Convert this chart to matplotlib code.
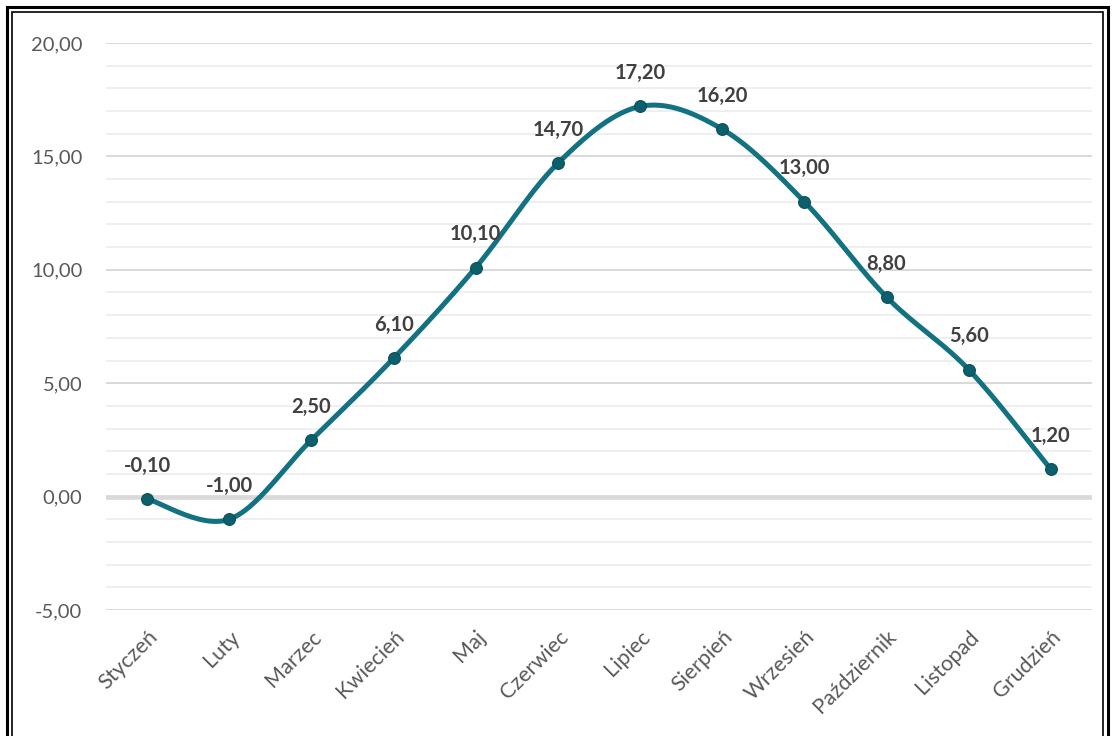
import numpy as np
import matplotlib.pyplot as plt
from matplotlib.patches import Rectangle

plt.rcParams['font.family'] = ['Lato', 'DejaVu Sans']

# dane: srednie temperatury w miesiacach
miesiace = ['Styczeń', 'Luty', 'Marzec', 'Kwiecień', 'Maj', 'Czerwiec',
            'Lipiec', 'Sierpień', 'Wrzesień', 'Październik', 'Listopad', 'Grudzień']
temperatury = [-0.10, -1.00, 2.50, 6.10, 10.10, 14.70,
               17.20, 16.20, 13.00, 8.80, 5.60, 1.20]

kolor_linii = '#137282'
kolor_punktu = '#0d5f6c'


def wygladz(x, y, n=30):
    # wygladzanie jak w Excelu (krzywe Beziera, Catmull-Rom)
    x = np.asarray(x, float)
    y = np.asarray(y, float)
    px = np.concatenate([[x[0]], x, [x[-1]]])
    py = np.concatenate([[y[0]], y, [y[-1]]])
    xs, ys = [], []
    t = np.linspace(0, 1, n)
    for i in range(1, len(px) - 2):
        p0 = np.array([px[i], py[i]])
        p3 = np.array([px[i + 1], py[i + 1]])
        p1 = p0 + (np.array([px[i + 1], py[i + 1]]) - np.array([px[i - 1], py[i - 1]])) / 6
        p2 = p3 - (np.array([px[i + 2], py[i + 2]]) - np.array([px[i], py[i]])) / 6
        b = ((1 - t) ** 3)[:, None] * p0 + (3 * (1 - t) ** 2 * t)[:, None] * p1 \
            + (3 * (1 - t) * t ** 2)[:, None] * p2 + (t ** 3)[:, None] * p3
        xs.extend(b[:, 0])
        ys.extend(b[:, 1])
    return np.array(xs), np.array(ys)


fig = plt.figure(figsize=(11.14, 7.36), dpi=100)
ax = fig.add_axes([0.0952, 0.1712, 0.885, 0.7704])

x = np.arange(len(miesiace))
sx, sy = wygladz(x, temperatury)

# linie siatki
for v in np.arange(-5, 20.5, 1):
    if v == 0:
        ax.axhline(v, color='#d9d9d9', lw=3.4, zorder=1)
    elif v % 5 == 0:
        ax.axhline(v, color='#d9d9d9', lw=1.4, zorder=1)
    else:
        ax.axhline(v, color='#eeeeee', lw=1.3, zorder=1)

ax.plot(sx, sy, color=kolor_linii, lw=3.6, zorder=3, solid_capstyle='round')
ax.plot(x, temperatury, 'o', ms=8.5, color=kolor_punktu, mec='#0a4f5a', mew=0.8, zorder=4)

for xi, yi in zip(x, temperatury):
    ax.annotate(f'{yi:.2f}'.replace('.', ','), (xi, yi), xytext=(0, 24),
                textcoords='offset points', ha='center', va='center',
                fontsize=14.5, fontweight='bold', color='#404040', zorder=5)

ax.set_xlim(-0.5, len(miesiace) - 0.5)
ax.set_ylim(-5, 20)
ax.set_yticks(np.arange(-5, 21, 5))
ax.set_yticklabels([f'{v:.2f}'.replace('.', ',') for v in np.arange(-5, 21, 5)])
ax.set_xticks(x)
ax.set_xticklabels(miesiace, rotation=45, ha='right', rotation_mode='anchor')
ax.tick_params(axis='y', length=0, labelsize=14.5, labelcolor='#595959', pad=17)
ax.tick_params(axis='x', length=0, labelsize=15.5, labelcolor='#595959', pad=12)
for s in ax.spines.values():
    s.set_visible(False)

# podwojna ramka
fig.patches.append(Rectangle((7 / 1114, -0.05), 1101 / 1114, 1 - 7 / 736 + 0.05,
                             transform=fig.transFigure, fill=False, lw=2.2, ec='black'))
fig.patches.append(Rectangle((12 / 1114, -0.05), 1091 / 1114, 1 - 12 / 736 + 0.05,
                             transform=fig.transFigure, fill=False, lw=1.2, ec='black'))

fig.savefig('out.png', dpi=100)
